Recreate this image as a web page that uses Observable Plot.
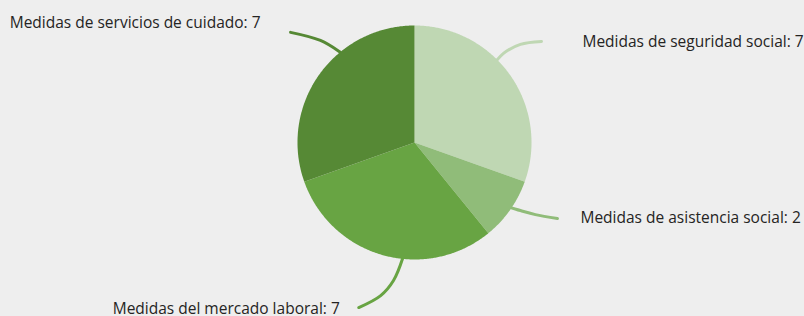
<!DOCTYPE html>
<html><head><meta charset="utf-8">
<script src="https://cdn.jsdelivr.net/npm/d3@7"></script>
<script src="https://cdn.jsdelivr.net/npm/@observablehq/plot@0.6"></script>
<style>html,body{margin:0;padding:0;background:#eeeeee;overflow:hidden}</style>
</head><body><div id="chart"></div>
<script>
// ---- data ----
const categories = ["Medidas de seguridad social", "Medidas de asistencia social", "Medidas del mercado laboral", "Medidas de servicios de cuidado"];
const values = [7, 2, 7, 7];
const colors = ["#bfd7b3", "#90bc79", "#68a443", "#568935"];

// ---- layout (not data) ----
const W = 804, H = 316, CX = 414, CY = 142, R = 117;
// leader lines: [angle offset (deg) from slice mid-angle, radius in pie radii]
const leaderShapes = [
  [[-8.6, 0.864], [-9.8, 1.076], [-7.6, 1.234], [-3.3, 1.387]],
  [[0.6, 0.906], [-2.5, 1.076], [-4.4, 1.203], [-7.2, 1.384]],
  [[-10.4, 0.927], [-9.8, 0.997], [-7, 1.193], [-3.2, 1.34], [3, 1.489]],
  [[16.6, 0.913], [15.4, 0.996], [12.1, 1.186], [6.4, 1.417]]
];
// label offset from leader end, in px: [dx, dy, anchor]
const labelOffsets = [[41, 1, "start"], [23, -1, "start"], [-19, 1, "end"], [-30, -9, "end"]];

const rows = categories.map((c, i) => ({name: c, value: values[i]}));
const arcs = d3.pie().sort(null).value(d => d.value)(rows);

const slicePts = [];
arcs.forEach(a => {
  const n = Math.max(4, Math.ceil((a.endAngle - a.startAngle) / (Math.PI / 360)));
  slicePts.push({name: a.data.name, x: 0, y: 0});
  for (let k = 0; k <= n; k++) {
    const t = a.startAngle + (a.endAngle - a.startAngle) * k / n;
    slicePts.push({name: a.data.name, x: Math.sin(t), y: Math.cos(t)});
  }
});

const leaderPts = [];
const labels = [];
arcs.forEach((a, i) => {
  const mid = (a.startAngle + a.endAngle) / 2;
  const shape = leaderShapes[i];
  shape.forEach(([off, r]) => {
    const t = mid + off * Math.PI / 180;
    leaderPts.push({name: a.data.name, x: r * Math.sin(t), y: r * Math.cos(t)});
  });
  const [eo, er] = shape[shape.length - 1];
  const te = mid + eo * Math.PI / 180;
  const [dx, dy, anchor] = labelOffsets[i];
  labels.push({
    name: a.data.name,
    text: `${a.data.name}: ${a.data.value}`,
    x: er * Math.sin(te) + dx / R,
    y: er * Math.cos(te) - dy / R,
    anchor
  });
});

const font = "'Open Sans', 'Noto Sans', sans-serif";
const chart = Plot.plot({
  width: W, height: H,
  margin: 0,
  style: {background: "#eeeeee", fontFamily: font},
  x: {domain: [-CX / R, (W - CX) / R], axis: null},
  y: {domain: [-(H - CY) / R, CY / R], axis: null},
  color: {domain: categories, range: colors},
  marks: [
    Plot.line(leaderPts, {x: "x", y: "y", z: "name", stroke: "name", strokeWidth: 3, curve: "catmull-rom", strokeLinecap: "round"}),
    Plot.line(slicePts, {x: "x", y: "y", z: "name", fill: "name", stroke: null, curve: "linear"}),
    Plot.text(labels.filter(d => d.anchor === "start"), {x: "x", y: "y", text: "text", textAnchor: "start", fontSize: 15.5, fill: "#252423"}),
    Plot.text(labels.filter(d => d.anchor === "end"), {x: "x", y: "y", text: "text", textAnchor: "end", fontSize: 15.5, fill: "#252423"})
  ]
});
document.getElementById("chart").appendChild(chart);
</script>
</body></html>
